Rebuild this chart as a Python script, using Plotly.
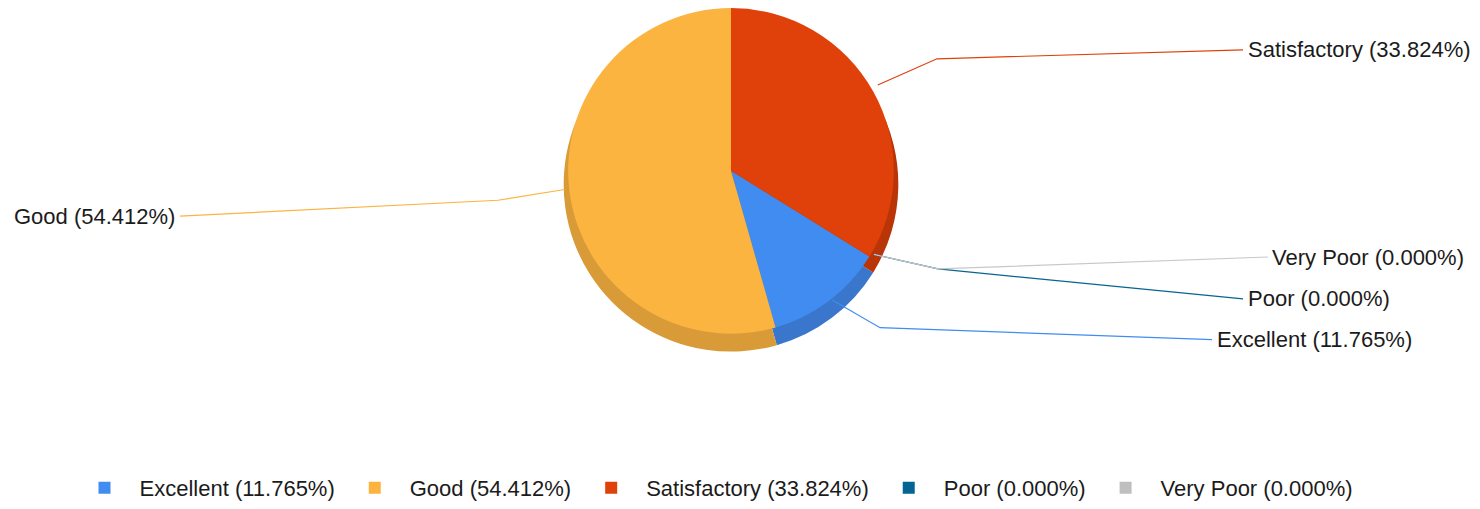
import math
import plotly.graph_objects as go

# ---- data ----
categories = ["Excellent", "Good", "Satisfactory", "Poor", "Very Poor"]
percentages = [11.765, 54.412, 33.824, 0.0, 0.0]
colors = ["#418CF0", "#FCB441", "#E0400A", "#056492", "#BFBFBF"]
rim_colors = ["#3A77CC", "#D99A38", "#B93406", "#04507A", "#A0A0A0"]
labels = [f"{c} ({p:.3f}%)" for c, p in zip(categories, percentages)]

# ---- layout constants (screen pixels) ----
OFF = 8                      # page body margin
W, H = 1480 - OFF, 509 - OFF  # figure size
CX, CY, R = 731, 167, 168
DEPTH = 18
ROTATION = 360 * percentages[2] / 100  # first slice starts where Satisfactory's arc ends

# label positions: (elbow x, elbow y, end x, end y, text x, anchor)
label_layout = {
    "Excellent": (880, 329, 1212, 341, 1215, "left"),
    "Good": (498, 201, 180, 217, 177, "right"),
    "Satisfactory": (937, 59, 1243, 50, 1246, "left"),
    "Poor": (938, 270, 1243, 300, 1246, "left"),
    "Very Poor": (938, 270, 1268, 258, 1270, "left"),
}


def px(x):
    return (x - OFF) / W


def py(y):
    return 1 - (y - OFF) / H


def domain(cy):
    return dict(x=[px(CX - 250), px(CX + 250)], y=[max(py(cy + R), 0), min(py(cy - R), 1)])


fig = go.Figure()
# side (depth) of the pie, drawn behind
fig.add_trace(go.Pie(
    labels=labels, values=percentages, sort=False, direction="clockwise",
    rotation=ROTATION, textinfo="none", hoverinfo="skip", showlegend=False,
    marker=dict(colors=rim_colors, line=dict(width=0)),
    domain=domain(CY + DEPTH),
))
# top face
fig.add_trace(go.Pie(
    labels=labels, values=percentages, sort=False, direction="clockwise",
    rotation=ROTATION, textinfo="none",
    marker=dict(colors=colors, line=dict(width=0)),
    domain=domain(CY),
))

# leader lines and labels
total = sum(percentages)
start = ROTATION
shapes, annotations = [], []
for cat, lab, p, col in zip(categories, labels, percentages, colors):
    span = 360 * p / total
    mid = math.radians(start + span / 2)
    start += span
    ax = CX + R * math.sin(mid)
    ay = CY - R * math.cos(mid)
    ex, ey, lx, ly, tx, anc = label_layout[cat]
    line_col = col if cat != "Very Poor" else "#C8C8C8"
    shapes.append(dict(
        type="path", xref="paper", yref="paper",
        path=f"M {px(ax)} {py(ay)} L {px(ex)} {py(ey)} L {px(lx)} {py(ly)}",
        line=dict(color=line_col, width=1.2),
    ))
    annotations.append(dict(
        x=px(tx), y=py(ly), xref="paper", yref="paper", text=lab,
        showarrow=False, xanchor=anc, yanchor="middle",
        font=dict(family="Liberation Sans, Arial, sans-serif", size=22, color="#1b1b1b"),
    ))

fig.update_layout(
    width=W, height=H,
    margin=dict(l=0, r=0, t=0, b=0),
    paper_bgcolor="white", plot_bgcolor="white",
    shapes=shapes, annotations=annotations,
    showlegend=True,
    legend=dict(
        orientation="h", x=px(714), xanchor="center", y=py(490), yanchor="middle",
        font=dict(family="Liberation Sans, Arial, sans-serif", size=22, color="#1b1b1b"),
        itemwidth=60, traceorder="normal",
    ),
)

fig.write_html("out.html")
